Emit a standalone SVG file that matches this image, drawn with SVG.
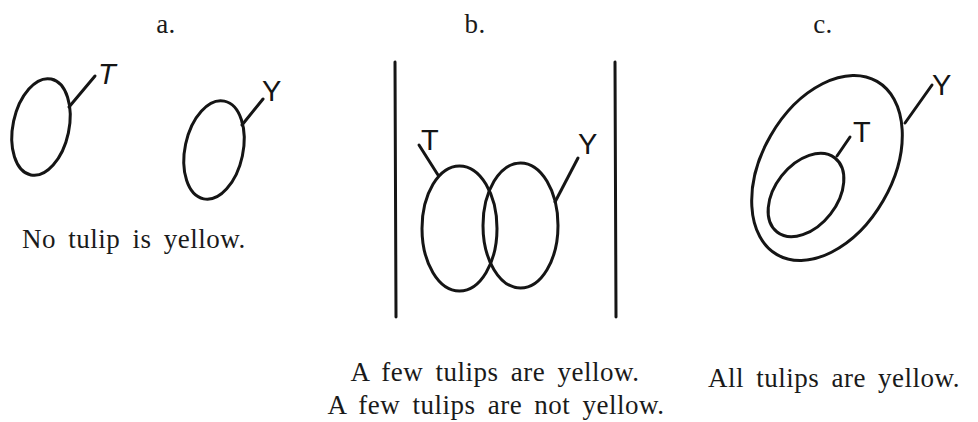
<svg xmlns="http://www.w3.org/2000/svg" width="978" height="422" viewBox="0 0 978 422">
<style>
.sh{fill:none;stroke:#151515;stroke-width:3;stroke-linecap:round}
.cap{font-family:"Liberation Serif","Times New Roman",serif;font-size:27px;fill:#1a1a1a;word-spacing:5px;letter-spacing:0.5px}
.lbl{font-family:"Liberation Sans",Arial,sans-serif;font-size:29px;fill:#151515}
</style>
<rect width="978" height="422" fill="#fff"/>
<g id="panel-a">
<text class="cap" x="166" y="33" text-anchor="middle">a.</text>
<g id="a-T">
<ellipse class="sh" cx="41" cy="127" rx="28" ry="49" transform="rotate(12 41 127)"/>
<text class="lbl" x="98" y="84" font-style="italic">T</text>
</g>
<g id="a-Y">
<ellipse class="sh" cx="214" cy="150" rx="29" ry="50" transform="rotate(12 214 150)"/>
<text class="lbl" x="262" y="101">Y</text>
</g>
<text class="cap" x="22" y="248">No tulip is yellow.</text>
</g>
<g id="panel-b">
<text class="cap" x="475" y="33" text-anchor="middle">b.</text>
<g id="b-universe">
<line class="sh" x1="395" y1="62" x2="396" y2="317"/>
<line class="sh" x1="615" y1="62" x2="616" y2="317"/>
</g>
<g id="b-T">
<ellipse class="sh" cx="459.5" cy="228.5" rx="37.5" ry="62.5"/>
<text class="lbl" x="421" y="150">T</text>
</g>
<g id="b-Y">
<ellipse class="sh" cx="520.5" cy="225.5" rx="37.5" ry="62.5"/>
<text class="lbl" x="578" y="154">Y</text>
</g>
<text class="cap" x="495" y="381" text-anchor="middle">A few tulips are yellow.</text>
<text class="cap" x="496" y="414" text-anchor="middle">A few tulips are not yellow.</text>
</g>
<g id="panel-c">
<text class="cap" x="823" y="33" text-anchor="middle">c.</text>
<g id="c-Y">
<ellipse class="sh" cx="827" cy="168" rx="65" ry="100" transform="rotate(30 827 168)"/>
<text class="lbl" x="932" y="95">Y</text>
</g>
<g id="c-T">
<ellipse class="sh" cx="806" cy="195" rx="31" ry="47" transform="rotate(38 806 195)"/>
<text class="lbl" x="853" y="142">T</text>
</g>
<text class="cap" x="834" y="387" text-anchor="middle">All tulips are yellow.</text>
</g>
<g id="connectors">
<line class="sh" x1="69" y1="107" x2="95" y2="76"/>
<line class="sh" x1="242" y1="125" x2="263" y2="99"/>
<line class="sh" x1="419" y1="145" x2="438" y2="175"/>
<line class="sh" x1="555" y1="202" x2="578" y2="158"/>
<line class="sh" x1="837" y1="156" x2="850" y2="137"/>
<line class="sh" x1="905" y1="123" x2="932" y2="85"/>
</g>
</svg>
